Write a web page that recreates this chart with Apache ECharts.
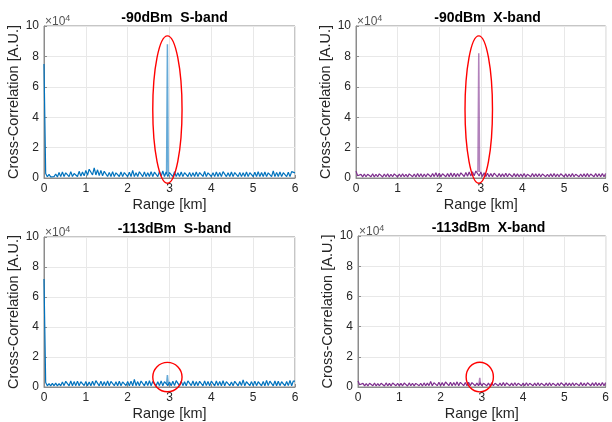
<!DOCTYPE html>
<html><head><meta charset="utf-8">
<script src="https://cdn.jsdelivr.net/npm/echarts@6/dist/echarts.min.js"></script>
<style>html,body{margin:0;padding:0;background:#fff}#c{width:612px;height:422px}</style>
</head><body><div id="c"></div>
<script>
// values in units of 1e4, sampled every 0.04 km from 0 to 6 km
var titles = ['-90dBm  S-band', '-90dBm  X-band', '-113dBm  S-band', '-113dBm  X-band'];
var xTicks = [0, 1, 2, 3, 4, 5, 6];
var yTicks = [0, 2, 4, 6, 8, 10];
var step = 0.04;
var S90 = [7.5,0.3,0.08,0.24,0.07,0.2,0.09,0.26,0.07,0.36,
 0.09,0.4,0.1,0.34,0.3,0.09,0.42,0.1,0.3,0.38,
 0.1,0.44,0.12,0.4,0.14,0.5,0.18,0.58,0.64,0.2,
 0.66,0.2,0.54,0.16,0.5,0.14,0.44,0.38,0.1,0.37,
 0.1,0.42,0.09,0.34,0.36,0.1,0.4,0.09,0.36,0.45,
 0.09,0.38,0.1,0.5,0.09,0.34,0.1,0.41,0.37,0.09,
 0.4,0.09,0.35,0.1,0.42,0.1,0.38,0.4,0.09,0.44,
 0.11,0.46,0.1,0.4,0.09,0.36,0.38,0.09,0.42,0.09,
 0.34,0.1,0.39,0.09,0.35,0.41,0.1,0.37,0.09,0.34,
 0.1,0.4,0.09,0.36,0.34,0.1,0.43,0.09,0.34,0.38,
 0.1,0.35,0.09,0.4,0.1,0.37,0.09,0.42,0.39,0.09,
 0.34,0.1,0.39,0.09,0.36,0.44,0.09,0.37,0.09,0.34,
 0.1,0.4,0.09,0.35,0.38,0.1,0.38,0.09,0.42,0.09,
 0.36,0.1,0.39,0.09,0.34,0.41,0.09,0.46,0.09,0.37,
 0.1,0.4,0.09,0.35,0.38,0.09,0.38,0.09,0.42,0.39,
 0.34];
var X90 = [0.45,0.15,0.08,0.24,0.07,0.26,0.08,0.24,0.26,0.08,
 0.28,0.07,0.25,0.08,0.27,0.24,0.07,0.26,0.08,0.28,
 0.07,0.25,0.08,0.27,0.25,0.07,0.26,0.08,0.28,0.08,
 0.25,0.07,0.27,0.24,0.08,0.26,0.07,0.29,0.08,0.28,
 0.07,0.26,0.08,0.28,0.25,0.08,0.3,0.09,0.34,0.08,
 0.31,0.09,0.28,0.32,0.08,0.29,0.09,0.33,0.08,0.31,
 0.09,0.3,0.1,0.34,0.31,0.1,0.36,0.11,0.39,0.13,
 0.42,0.14,0.46,0.44,0.13,0.39,0.1,0.34,0.09,0.31,
 0.08,0.29,0.09,0.32,0.28,0.08,0.3,0.09,0.27,0.08,
 0.31,0.08,0.28,0.26,0.08,0.29,0.09,0.27,0.08,0.26,
 0.08,0.29,0.07,0.25,0.26,0.08,0.3,0.08,0.27,0.08,
 0.28,0.08,0.26,0.29,0.08,0.25,0.08,0.27,0.08,0.3,
 0.08,0.26,0.08,0.28,0.25,0.08,0.27,0.07,0.26,0.08,
 0.29,0.08,0.25,0.28,0.08,0.26,0.08,0.27,0.08,0.29,
 0.08,0.26,0.28,0.08,0.3,0.08,0.28,0.08,0.3,0.08,
 0.29];
var S113 = [7.2,0.3,0.08,0.22,0.07,0.24,0.08,0.26,0.07,0.23,
 0.08,0.34,0.09,0.38,0.36,0.08,0.4,0.08,0.36,0.09,
 0.39,0.08,0.35,0.41,0.09,0.37,0.08,0.34,0.08,0.38,
 0.09,0.42,0.36,0.08,0.39,0.08,0.35,0.09,0.4,0.08,
 0.37,0.43,0.09,0.35,0.08,0.38,0.08,0.34,0.41,0.09,
 0.37,0.08,0.39,0.08,0.5,0.09,0.36,0.08,0.4,0.35,
 0.08,0.38,0.09,0.42,0.08,0.37,0.39,0.08,0.35,0.09,
 0.41,0.08,0.36,0.4,0.09,0.34,0.08,0.38,0.09,0.42,
 0.36,0.08,0.39,0.09,0.35,0.08,0.41,0.37,0.09,0.4,
 0.08,0.36,0.09,0.38,0.34,0.08,0.41,0.09,0.37,0.08,
 0.39,0.35,0.08,0.4,0.09,0.37,0.08,0.42,0.08,0.36,
 0.39,0.09,0.34,0.08,0.38,0.41,0.08,0.37,0.09,0.47,
 0.08,0.35,0.4,0.09,0.36,0.08,0.39,0.09,0.35,0.42,
 0.08,0.37,0.08,0.44,0.09,0.39,0.36,0.08,0.4,0.08,
 0.38,0.09,0.35,0.42,0.08,0.37,0.09,0.44,0.08,0.4,
 0.39];
var X113 = [0.4,0.15,0.07,0.24,0.08,0.23,0.07,0.25,0.24,0.08,
 0.26,0.07,0.23,0.08,0.25,0.24,0.07,0.27,0.08,0.24,
 0.07,0.26,0.23,0.08,0.25,0.07,0.24,0.08,0.26,0.24,
 0.07,0.27,0.08,0.25,0.07,0.24,0.26,0.08,0.25,0.07,
 0.27,0.08,0.26,0.09,0.36,0.08,0.28,0.3,0.09,0.32,
 0.08,0.29,0.09,0.33,0.31,0.09,0.32,0.08,0.3,0.1,
 0.34,0.09,0.31,0.33,0.09,0.3,0.08,0.32,0.09,0.29,
 0.28,0.08,0.26,0.09,0.27,0.08,0.25,0.28,0.08,0.26,
 0.08,0.27,0.08,0.25,0.28,0.08,0.26,0.08,0.29,0.08,
 0.27,0.3,0.08,0.26,0.08,0.28,0.08,0.25,0.27,0.08,
 0.26,0.08,0.28,0.08,0.25,0.27,0.08,0.26,0.08,0.28,
 0.08,0.25,0.27,0.08,0.26,0.08,0.28,0.08,0.25,0.27,
 0.08,0.26,0.08,0.28,0.25,0.08,0.27,0.08,0.26,0.08,
 0.28,0.08,0.25,0.27,0.08,0.29,0.08,0.26,0.08,0.28,
 0.3,0.08,0.27,0.08,0.29,0.08,0.26,0.08,0.3,0.08,
 0.29];
// target echo peaks (x km, y 1e4)
var peakS90 = [[2.93, 0.3], [2.95, 8.8], [2.97, 0.3]];
var peakX90 = [[2.93, 0.4], [2.95, 8.2], [2.97, 0.4]];
var peakS113 = [[2.93, 0.2], [2.95, 0.8], [2.97, 0.2]];
var peakX113 = [[2.93, 0.15], [2.95, 0.6], [2.97, 0.15]];
// highlight ellipses: center (km, 1e4), radii (km, 1e4)
var marks = [[2.95, 4.5, 0.35, 4.85], [2.95, 4.5, 0.33, 4.85], [2.95, 0.66, 0.35, 0.98], [2.95, 0.66, 0.33, 0.98]];

var blue = '#0072BD', purple = '#7E2F8E';
var noise = [S90, X90, S113, X113];
var peaks = [peakS90, peakX90, peakS113, peakX113];
var colors = [blue, purple, blue, purple];
var grids = [
  {left: 44, top: 26, width: 251, height: 152},
  {left: 356, top: 26, width: 253, height: 152},
  {left: 44, top: 237, width: 251, height: 152},
  {left: 358, top: 236, width: 251, height: 152}
];
var font = 'Liberation Sans, Arial, sans-serif';
var opt = {animation: false, grid: [], xAxis: [], yAxis: [], series: [], title: []};
grids.forEach(function (g, i) {
  opt.grid.push(Object.assign({show: true, borderColor: '#8c8c8c', borderWidth: 1, backgroundColor: '#fff'}, g));
  opt.title.push({text: titles[i], left: g.left + g.width / 2, top: g.top - 20, textAlign: 'center',
    textStyle: {fontFamily: font, fontSize: 14, fontWeight: 'bold', color: '#000'}});
  opt.xAxis.push({type: 'value', gridIndex: i, min: xTicks[0], max: xTicks[xTicks.length - 1], interval: 1,
    name: 'Range [km]', nameLocation: 'middle', nameGap: 19,
    nameTextStyle: {fontFamily: font, fontSize: 14.5, color: '#262626'},
    axisLine: {show: true, lineStyle: {color: '#8c8c8c'}},
    axisTick: {show: true, inside: true, length: 3, lineStyle: {color: '#8c8c8c'}},
    axisLabel: {fontFamily: font, fontSize: 12, color: '#262626', margin: 5},
    splitLine: {show: true, lineStyle: {color: '#e8e8e8', width: 1}}});
  opt.yAxis.push({type: 'value', gridIndex: i, min: yTicks[0], max: yTicks[yTicks.length - 1], interval: 2,
    name: 'Cross-Correlation [A.U.]', nameLocation: 'middle', nameGap: 22,
    nameTextStyle: {fontFamily: font, fontSize: 14.5, color: '#262626'},
    axisLine: {show: true, lineStyle: {color: '#8c8c8c'}},
    axisTick: {show: true, inside: true, length: 3, lineStyle: {color: '#8c8c8c'}},
    axisLabel: {fontFamily: font, fontSize: 12, color: '#262626', margin: 5},
    splitLine: {show: true, lineStyle: {color: '#e8e8e8', width: 1}}});
  var d = noise[i].map(function (v, k) { return [+(k * step).toFixed(3), v]; });
  opt.series.push({type: 'line', xAxisIndex: i, yAxisIndex: i, data: d, showSymbol: false, symbol: 'none',
    lineStyle: {color: colors[i], width: 1.2}, silent: true});
  opt.series.push({type: 'line', xAxisIndex: i, yAxisIndex: i, data: peaks[i], showSymbol: false, symbol: 'none',
    lineStyle: {color: colors[i], width: 1.5, opacity: 0.6}, silent: true, z: 3});
});
var chart = echarts.init(document.getElementById('c'), null, {renderer: 'canvas'});
chart.setOption(opt);
var gr = [];
marks.forEach(function (m, i) {
  var c = chart.convertToPixel({gridIndex: i}, [m[0], m[1]]);
  var e = chart.convertToPixel({gridIndex: i}, [m[0] + m[2], m[1] + m[3]]);
  gr.push({type: 'ellipse', shape: {cx: c[0], cy: c[1], rx: Math.abs(e[0] - c[0]), ry: Math.abs(c[1] - e[1])},
    style: {fill: 'none', stroke: '#ff0000', lineWidth: 1.4}, z: 100});
  var g = grids[i];
  gr.push({type: 'text', left: g.left + 1, top: g.top - 12, z: 100,
    style: {text: '\u00d710{s|4}', fill: '#555', font: '12px ' + font,
      rich: {s: {fontSize: 9, verticalAlign: 'top', fill: '#555', fontFamily: font, padding: [0, 0, 6, 0]}}}});
});
chart.setOption({graphic: gr});
</script></body></html>
